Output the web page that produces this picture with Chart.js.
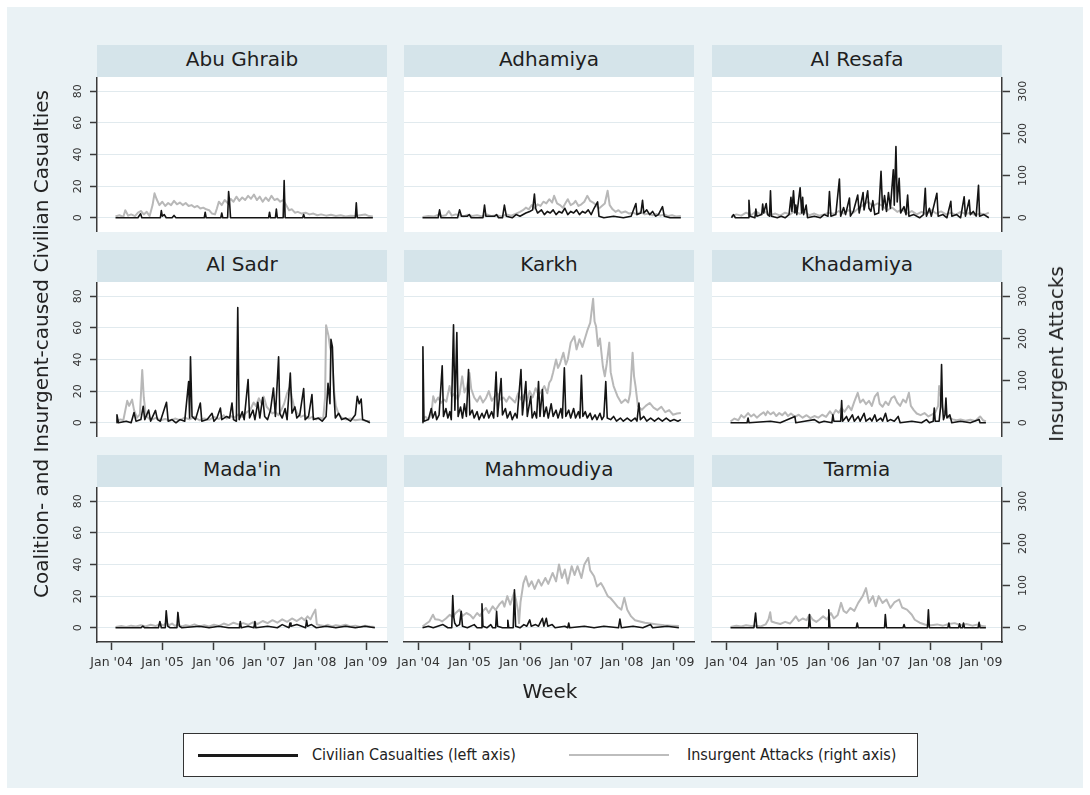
<!DOCTYPE html>
<html>
<head>
<meta charset="utf-8">
<title>Civilian casualties and insurgent attacks by district, Baghdad</title>
<script src="https://cdn.jsdelivr.net/npm/chart.js@4.4.1/dist/chart.umd.min.js"></script>
<style>
  html, body { margin: 0; padding: 0; background: #ffffff; }
  body { width: 1090px; height: 795px; overflow: hidden; position: relative;
         font-family: "DejaVu Sans", "Liberation Sans", sans-serif; color: #222; }
  #frame { position: absolute; left: 7px; top: 7px; width: 1076px; height: 781px; background: #eaf2f5; }
  .strip { position: absolute; width: 290px; height: 32px; background: #d5e4ea; text-align: center;
           font-size: 20px; line-height: 29px; color: #1e1e1e; white-space: nowrap; }
  canvas { position: absolute; }
  .ttl { position: absolute; white-space: nowrap; font-size: 20px; color: #222;
         transform: translate(-50%, -50%); }
  .ttl.rot { transform: translate(-50%, -50%) rotate(-90deg); }
  #legend { position: absolute; left: 183px; top: 733px; width: 735px; height: 44px; box-sizing: border-box;
            border: 1.5px solid #333; background: #fff; }
  #legend .swatch { position: absolute; width: 100px; }
  #legend .lbl { position: absolute; top: 0; line-height: 41px; font-size: 16px; white-space: nowrap;
                 font-family: "DejaVu Sans Condensed", "DejaVu Sans", sans-serif; color: #222; }
</style>
</head>
<body>
<div id="frame"></div>
<div id="stage"></div>
<div class="ttl rot" id="yTitleLeft" style="left:41px; top:344px;"></div>
<div class="ttl rot" id="yTitleRight" style="left:1056px; top:354px;"></div>
<div class="ttl" id="xTitle" style="left:550px; top:691px;"></div>
<div id="legend">
  <div class="swatch" style="left:14px; top:19.5px; height:3px; background:#1a1a1a;"></div>
  <div class="lbl" id="legendA" style="left:128px;"></div>
  <div class="swatch" style="left:385px; top:20px; height:2px; background:#bdbdbd;"></div>
  <div class="lbl" id="legendB" style="left:503px;"></div>
</div>

<script>
// ---------- labels ----------
const districts = ["Abu Ghraib", "Adhamiya", "Al Resafa", "Al Sadr", "Karkh", "Khadamiya",
                   "Mada'in", "Mahmoudiya", "Tarmia"];
const seriesNames = ["Civilian Casualties (left axis)", "Insurgent Attacks (right axis)"];
const leftAxisTitle = "Coalition- and Insurgent-caused Civilian Casualties";
const rightAxisTitle = "Insurgent Attacks";
const xAxisTitle = "Week";

// ---------- axis ticks ----------
const yearTickDates = ["2004-01-01", "2005-01-01", "2006-01-01", "2007-01-01", "2008-01-01", "2009-01-01"];
const yearTickLabels = ["Jan '04", "Jan '05", "Jan '06", "Jan '07", "Jan '08", "Jan '09"];
const leftTicks = [0, 20, 40, 60, 80];
const rightTicks = [0, 100, 200, 300];

// ---------- weekly series: [weeks since 1 Jan 2004, value] ----------
const abuGhraibCasualties = [[4,0],[27,0],[28.5,1.5],[29.7,2.5],[31,0],[50,0],[51,4.5],[52,1],[54,2],[56,0],[62,0],[64,1.5],[66,0],[95,0],[96,3.5],[97,0],[112,0],[113,3],[114,0],[119,0],[120,16.5],[121,10],[122,0],[161,0],[162,3.5],[163,0],[168,0],[169,5.5],[170,0],[176,0],[177,23.5],[178,0],[196,0],[197,2],[198,0],[250,0],[251,9.5],[252,0],[268,0]];
const abuGhraibAttacks = [[4,3],[8,6],[12,2],[14,18],[17,5],[20,8],[24,4],[27,12],[30,16],[33,8],[36,14],[39,4],[42,30],[44,58],[46,45],[49,30],[52,38],[55,28],[58,35],[61,30],[64,40],[67,32],[70,36],[73,30],[76,35],[79,28],[82,30],[85,25],[88,28],[91,22],[94,24],[97,20],[100,18],[103,10],[106,8],[108,22],[110,38],[113,30],[116,42],[119,35],[122,45],[125,38],[128,50],[131,40],[134,48],[137,42],[140,52],[143,45],[146,55],[149,42],[152,50],[155,38],[158,48],[161,40],[164,52],[167,42],[170,45],[173,38],[176,42],[179,30],[182,18],[185,20],[188,12],[191,14],[195,10],[199,12],[203,8],[207,10],[211,6],[215,8],[220,5],[225,7],[230,4],[235,6],[240,3],[245,5],[250,4],[255,6],[260,8],[264,4],[268,3]];

const adhamiyaCasualties = [[4,0],[20,0],[21.5,5],[23,0],[40,0],[42,5],[44,1],[50,1],[52,2],[54,0],[66,0],[67.6,8],[69,1],[78,1],[80,2],[82,0],[86,0],[88,8],[90,1],[96,0],[100,2],[104,1],[110,3],[114,4],[117,5],[118.8,15],[120,6],[122,3],[126,5],[129,2],[132,4],[135,3],[138,5],[141,2],[144,4],[147,3],[150,6],[153,2],[156,4],[159,3],[162,5],[165,2],[168,4],[171,3],[174,5],[177,2],[180,6],[183.6,10],[185,1],[190,0],[200,1],[210,0],[218,1],[222.9,9],[224,2],[228,3],[229.7,11],[231,3],[234,5],[237,2],[240,4],[243,1],[246,2],[250.2,7],[252,1],[258,0],[269,0]];
const adhamiyaAttacks = [[4,2],[10,4],[16,3],[21,8],[24,4],[28,6],[31,16],[34,5],[38,8],[42,6],[46,3],[50,7],[55,4],[60,6],[65,3],[70,8],[75,4],[80,6],[85,3],[90,8],[95,5],[100,10],[104,14],[107,18],[110,24],[113,20],[116,30],[119,22],[122,32],[125,28],[128,38],[131,34],[134,44],[137,36],[139,52],[142,34],[145,30],[148,24],[151,36],[153,44],[156,30],[159,34],[161,40],[164,28],[167,32],[170,38],[173,52],[176,40],[179,36],[182,30],[185,22],[188,28],[191,34],[193.9,64],[196,30],[199,20],[202,14],[205,18],[208,12],[212,15],[216,10],[220,12],[224,8],[228,14],[232,8],[236,10],[240,6],[244,9],[248,5],[252,8],[256,4],[260,6],[264,3],[269,4]];

const alResafaCasualties = [[5,0],[7,2],[9,0],[22,0],[22.9,11],[24,1],[29,0],[30,5.5],[31,1],[36,2],[37,8.7],[38,3],[40.6,9],[42,2],[44,1],[45,17],[46,1],[52,0],[56,1],[60,0],[64,2],[66,13],[67,4],[68.6,17],[70,3],[71,8],[72,2],[75.4,19],[77,3],[78,13],[79,2],[81.6,8],[83,0],[90,1],[96,0],[100,2],[104,1],[105.5,16.5],[107,1],[112,2],[115.7,24.5],[117,1],[120,6.5],[122,2],[126,12.5],[127,1],[130,4],[134.5,14.4],[136,3],[140,16],[141,5],[142,8],[144.7,17],[146,6],[148,4],[150,10.8],[152,2],[156,3],[158.4,29.4],[160,5],[162,14],[164,4],[166,16],[168,6],[171,30.3],[172,8],[173.7,45],[175,10],[177,25],[178.5,3],[182,7],[184,2],[185.7,14.4],[187,1],[192,2],[198,0],[202,2],[203.8,18.6],[205,1],[208,6],[210,1],[215.7,15.5],[217,1],[222,2],[226,0],[230,10.4],[231,1],[236,2],[240,0],[243.7,13.3],[245,1],[248.8,11.2],[250,2],[253,4],[256,1],[258.4,20.5],[259.5,1],[264,2],[269,0]];
const alResafaAttacks = [[5,4],[10,8],[15,5],[20,12],[25,6],[30,15],[35,8],[40,14],[45,6],[50,10],[55,5],[60,12],[65,8],[70,16],[75,9],[80,14],[85,6],[90,10],[95,5],[100,8],[105,12],[110,9],[115,16],[120,10],[125,18],[130,12],[135,22],[140,30],[145,38],[150,28],[155,34],[160,28],[165,18],[170,24],[175,14],[180,20],[185,10],[190,16],[195,8],[200,14],[205,9],[210,18],[215,10],[220,15],[225,8],[230,12],[235,7],[240,14],[245,9],[250,12],[255,6],[260,10],[265,8],[269,12]];

const alSadrCasualties = [[5,0],[5.5,5],[7,0],[15,1],[20,0],[23,6.5],[25,1],[30,2],[32.4,10.4],[34,2],[38,8],[40,1],[45,7.8],[47,2],[50,1],[56.3,13],[58,1],[62,2],[66,0],[70,2],[75,1],[79,26],[80,3],[80.9,41.7],[82.5,4],[86,2],[91,12.5],[92.5,1],[98,2],[103,6],[105,1],[108,3],[111.6,9.3],[113,2],[118,4],[121,3],[123.5,12.5],[125,2],[128,1],[129.4,72.8],[130.8,2],[134,7],[136,2],[140,27.3],[141.5,3],[145,8],[147,2],[150,13],[152,3],[155,16],[157,4],[160,2],[163,8],[166,22],[168,4],[171.3,41.7],[172.5,6],[175,3],[178,9],[180,2],[183.3,31.5],[185,6],[188,10],[190,3],[193,5],[197,21.6],[198.5,2],[202,4],[205.5,17.8],[207,2],[212,3],[216,1],[220,4],[222,25],[224,12],[225,52.7],[226.5,48],[228,18.8],[229.5,3],[233,6],[236,2],[240,3],[245,1],[250,5],[252,16.7],[254,12],[256,15],[257.5,2],[262,1],[265,0]];
const alSadrAttacks = [[5,4],[9,8],[12,6],[16,52],[18,40],[21,55],[23,30],[26,12],[29,20],[31.4,125],[33,60],[35,20],[38,10],[42,8],[46,12],[50,6],[55,9],[60,5],[65,10],[70,6],[75,12],[80,8],[85,14],[90,6],[95,10],[100,7],[105,14],[110,9],[115,18],[118,10],[122,16],[126,12],[130,20],[134,14],[138,24],[142,30],[145.7,48],[148,40],[151,58],[154,45],[156,62],[159,38],[162,30],[165,22],[168,26],[171,18],[174,30],[177,45],[180,70],[183,85],[185,60],[187,40],[190,24],[194,14],[198,18],[202,10],[206,14],[210,8],[214,12],[217,9],[219,60],[220,231],[222.5,206],[224,180],[226,158],[228,80],[230,40],[233,20],[236,12],[240,8],[245,10],[250,6],[255,8],[260,5],[265,4]];

const karkhCasualties = [[4,0],[4.4,48],[5.5,1],[10,2],[13,9],[14.5,3],[17,7],[18.5,2],[21,5],[24.2,36],[25.5,4],[28,9],[30,3],[32,7],[33.5,2],[35.8,62],[37.2,8],[39.2,57],[40.5,4],[43,10],[45,3],[47,12],[49,4],[51.2,33.6],[52.5,5],[55,8],[57,3],[60,7],[62,2],[65,6],[67,3],[70,8],[72,3],[75,7],[77,3],[79.5,32],[81,4],[84.6,28],[86,5],[89,9],[91,3],[94,7],[96,2],[99,6],[101,3],[105,33.6],[106.5,5],[110,26],[111.5,4],[115,16.7],[116.5,3],[119,7],[121,3],[123,26],[124.5,4],[127,21],[128.5,4],[131,10],[133,3],[136,12],[138,4],[141,8],[143,3],[146,9],[147.5,3],[149.5,34.7],[151,4],[154,8],[156,3],[159,9],[161,3],[164,7],[165.5,3],[167,30],[168.5,4],[171,7],[173,3],[176,6],[178,2],[181,5],[183,2],[186,6],[188,2],[190,4],[192,26],[193.5,3],[197,2],[200,4],[203,1],[207,3],[210,1],[214,3],[218,1],[222,3],[224,1],[226,12.5],[227.5,2],[231,4],[234,1],[238,3],[242,1],[246,3],[250,1],[254,3],[258,1],[262,2],[266,1],[269,2]];
const karkhAttacks = [[4,10],[7,14],[10,8],[13,20],[15,63],[17,48],[20,60],[23,47],[26,55],[28.5,50],[31.7,87],[34,62],[37,70],[40,55],[42,68],[44.7,110],[47,72],[49.5,85],[52.2,118],[54,80],[57,60],[60,50],[63,63],[66,48],[69,58],[72,75],[75,52],[78,62],[81,70],[84,55],[87,60],[90,50],[93,62],[96,55],[99,48],[102,70],[105,55],[108,66],[111,50],[114,75],[117,60],[120,82],[123,66],[126,75],[129,87],[132,70],[134,95],[136,102],[138,120],[141,150],[143,130],[145,140],[148.5,166],[151,138],[153,150],[156,190],[159.7,205],[162,174],[165,198],[168,180],[170,195],[173.4,221],[176,237],[179,294],[180.5,240],[182,229],[184,182],[186,200],[189,134],[191,110],[193,140],[195.6,190],[197,120],[200,87],[204,63],[208,47],[212,55],[215,48],[217,70],[219.5,166],[221,110],[222.5,87],[225,39],[229,31],[233,40],[237,47],[241,36],[245,30],[249,38],[253,25],[257,30],[261,19],[265,22],[269,23]];

const khadamiyaCasualties = [[4,0],[21,0],[22,3],[23,0],[45,1],[55,0],[70,4],[71,0],[80,1],[90,2],[95,0],[100,1],[108,0],[109,5],[110,1],[117,1],[118,14],[119,1],[123,4],[125,1],[129,5],[131,1],[135,4],[137,1],[141,6],[143,1],[147,3],[149,1],[152,5],[154,1],[158,3],[160,1],[163,6],[165,1],[168,2],[172,1],[176,4],[178,0],[190,1],[200,0],[205,2],[208,0],[212,1],[213,9.3],[214,1],[218,1],[219.5,10],[220.5,36.8],[221.5,10],[222.5,2],[224,5],[225,15.7],[226,3],[229,5],[231,0],[240,1],[250,0],[259,2],[260,0],[266,0]];
const khadamiyaAttacks = [[4,3],[8,10],[12,6],[15,18],[18,12],[22,23],[25,15],[28,20],[31,12],[35,20],[38,25],[40,18],[42,27],[45,20],[48,25],[51,16],[54,23],[57,18],[60,25],[63,16],[66,22],[70,14],[74,19],[78,12],[82,18],[86,11],[90,16],[94,12],[98,19],[102,14],[106,27],[109,18],[112,30],[115,24],[118,35],[121,26],[125,40],[128,30],[131,50],[134.5,71],[137,48],[140,55],[143,44],[146,52],[149,40],[152,62],[155,71],[157,45],[160,38],[163,50],[166,42],[169,58],[172,63],[175,48],[178,40],[181,55],[184,48],[187,71],[189,40],[192,30],[195,22],[199,18],[203,23],[207,15],[211,20],[214,25],[217,40],[218,87],[220,60],[222,30],[225,20],[228,12],[232,8],[236,6],[240,8],[245,5],[250,7],[255,4],[260,15],[263,6],[266,3]];

const madainCasualties = [[4,0],[30,0],[32,1],[34,0],[48,0],[49.5,4],[51,0],[55,0],[56,10.8],[57.5,1],[60,0],[67,0],[68,9.7],[69.5,1],[72,0],[90,1],[100,0],[110,1],[120,0],[131,0],[132,4],[133,0],[140,1],[146,0],[147,4],[148,0],[160,1],[170,0],[175,2],[182,0],[183,3],[184,1],[190,2],[195,1],[199,0],[200,4.7],[201,1],[205,2],[210,0],[220,1],[230,0],[240,1],[250,0],[260,1],[270,0]];
const madainAttacks = [[4,2],[10,4],[15,2],[20,5],[25,3],[30,6],[35,3],[40,7],[45,4],[50,9],[53,5],[56,12],[59,6],[62,10],[65,4],[68,8],[72,3],[76,6],[80,4],[85,8],[90,3],[95,6],[100,3],[105,7],[110,4],[115,10],[120,6],[125,12],[130,8],[135,11],[140,7],[145,13],[150,9],[155,16],[160,11],[165,18],[170,12],[175,20],[180,14],[185,22],[190,16],[195,24],[198,18],[201,27],[204,20],[206,30],[209,43],[210.5,8],[214,6],[218,4],[222,7],[226,3],[230,6],[235,4],[240,7],[245,3],[250,5],[255,2],[260,5],[265,3],[270,2]];

const mahmoudiyaCasualties = [[4,0],[10,1],[15,0],[25,2],[30,0],[34,0],[35,20.3],[36,7],[37,3],[39,1],[42,2],[43.7,10.4],[45,1],[50,0],[57,2],[60,0],[64,0],[65,15.2],[66,1],[70,0],[74,2],[76,0],[79,0],[80,10.4],[81,1],[86,0],[91,0],[91.5,4.7],[92.5,0],[97,0],[98.3,24],[99.5,1],[104,0],[108,2],[111,1],[114,5],[115.5,1],[120,2],[123,1],[127,6],[128.5,1],[131,6],[132.5,1],[137,2],[140,0],[150,1],[153,0],[154,3],[155,0],[170,1],[180,0],[190,1],[205,0],[206.5,5.5],[208,0],[220,1],[230,0],[238,2],[240,0],[255,1],[267,0]];
const mahmoudiyaAttacks = [[4,3],[8,10],[11,15],[14.7,31],[17,20],[21,19],[24,15],[28,22],[32,31],[35,25],[38,35],[42,43],[45,28],[49,35],[53,30],[56,22],[60,35],[63,28],[66,40],[69,47],[72,35],[76,51],[79,42],[83,56],[86,63],[88,50],[91,75],[94,55],[98,83],[100,65],[102,40],[103,11],[104.5,60],[107.5,106],[110,122],[113,98],[116,110],[119,92],[123,114],[126,100],[130,118],[133,104],[137.5,130],[141,110],[144,150],[147,118],[150,138],[153,105],[157,146],[160,125],[163,146],[167,118],[170,150],[174,166],[176,136],[180,122],[183,98],[187,106],[190,94],[194,75],[197,70],[201,59],[204,50],[208,43],[211,71],[214,43],[218,27],[222,18],[227,15],[232,12],[238,10],[245,8],[252,6],[260,5],[267,4]];

const tarmiaCasualties = [[4,0],[28,0],[29.7,9.3],[31,0],[84,0],[85,8.3],[86,0],[104,0],[104.8,11.4],[106,0],[133,0],[134,3],[135,0],[162,0],[162.8,8.3],[164,0],[181,0],[182,2],[183,0],[206,0],[207,11.4],[208,0],[227,0],[228,3],[229,0],[238,0],[239,2.5],[240,0],[242,0],[243,3],[244,0],[258,0],[259,3.4],[260,0],[266,0]];
const tarmiaAttacks = [[4,2],[10,5],[15,3],[20,6],[25,4],[30,5],[35,3],[40,8],[43,20],[44.7,37],[46,15],[50,12],[55,9],[60,14],[65,10],[68,18],[71,27],[74,16],[78,22],[82,18],[85,31],[88,20],[92,14],[95,19],[99,27],[103,20],[107,35],[110,22],[114,30],[117.4,59],[120,40],[123,35],[127,47],[131,40],[135,59],[139.6,75],[143,94],[146,59],[150,75],[153,51],[156,75],[160,59],[164,67],[168,47],[172,60],[177,67],[180,48],[185,43],[190,31],[193,19],[198,12],[204,7],[210,6],[216,8],[222,5],[228,9],[234,11],[240,6],[246,9],[252,5],[258,8],[262,4],[266,3]];

const casualtiesByDistrict = [abuGhraibCasualties, adhamiyaCasualties, alResafaCasualties, alSadrCasualties,
  karkhCasualties, khadamiyaCasualties, madainCasualties, mahmoudiyaCasualties, tarmiaCasualties];
const attacksByDistrict = [abuGhraibAttacks, adhamiyaAttacks, alResafaAttacks, alSadrAttacks,
  karkhAttacks, khadamiyaAttacks, madainAttacks, mahmoudiyaAttacks, tarmiaAttacks];

// ---------- layout ----------
const COL_X = [97, 404, 712];
const ROW_Y = [45, 250, 455];
const STRIP_H = 32, PLOT_W = 290, PLOT_H = 155;
const LEFT_AXIS_W = 42, RIGHT_AXIS_W = 34, BOTTOM_AXIS_H = 40;
const SIDE_ROOM = 26;   // room beside each panel so edge tick labels are not cut
const AXIS_COLOR = '#3a3a3a', GRID_COLOR = '#e1eaee', TICK_TEXT = '#333';
const TICK_FONT = '11px "DejaVu Sans", "Liberation Sans", sans-serif';

const WEEK_MS = 7 * 24 * 3600 * 1000;
const origin = Date.UTC(2004, 0, 1);
const weekOf = s => (Date.parse(s + 'T00:00:00Z') - origin) / WEEK_MS;
const yearTickWeeks = yearTickDates.map(weekOf);

document.getElementById('yTitleLeft').textContent = leftAxisTitle;
document.getElementById('yTitleRight').textContent = rightAxisTitle;
document.getElementById('xTitle').textContent = xAxisTitle;
document.getElementById('legendA').textContent = seriesNames[0];
document.getElementById('legendB').textContent = seriesNames[1];

Chart.defaults.font.family = '"DejaVu Sans", "Liberation Sans", sans-serif';

// white plot region behind the lines
const plotBackground = {
  id: 'plotBackground',
  beforeDraw(chart) {
    const { ctx, chartArea: a } = chart;
    ctx.save();
    ctx.fillStyle = '#ffffff';
    ctx.fillRect(a.left, a.top, a.right - a.left, a.bottom - a.top);
    ctx.restore();
  }
};

// vertical-axis tick labels, turned to read upwards
const uprightTickLabels = {
  id: 'uprightTickLabels',
  afterDraw(chart, args, opts) {
    const { ctx, chartArea: a } = chart;
    (opts.axes || []).forEach(id => {
      const s = chart.scales[id];
      const onLeft = s.options.position === 'left';
      const x = onLeft ? a.left - 19 : a.right + 21;
      ctx.save();
      ctx.font = TICK_FONT;
      ctx.fillStyle = TICK_TEXT;
      ctx.textAlign = 'center';
      ctx.textBaseline = 'middle';
      s.ticks.forEach(t => {
        const y = s.getPixelForValue(t.value);
        ctx.save();
        ctx.translate(x, y);
        ctx.rotate(-Math.PI / 2);
        ctx.fillText(t.label != null ? String(t.label) : String(t.value), 0, 0);
        ctx.restore();
      });
      ctx.restore();
    });
  }
};

const stage = document.getElementById('stage');

districts.forEach((name, i) => {
  const row = Math.floor(i / 3), col = i % 3;

  const strip = document.createElement('div');
  strip.className = 'strip';
  strip.style.left = COL_X[col] + 'px';
  strip.style.top = ROW_Y[row] + 'px';
  strip.textContent = name;
  stage.appendChild(strip);

  const leftW = col === 0 ? LEFT_AXIS_W : 0;
  const rightW = col === 2 ? RIGHT_AXIS_W : 0;
  const bottomH = row === 2 ? BOTTOM_AXIS_H : 0;

  const canvas = document.createElement('canvas');
  canvas.width = PLOT_W + leftW + rightW + 2 * SIDE_ROOM;
  canvas.height = PLOT_H + bottomH;
  canvas.style.left = (COL_X[col] - leftW - SIDE_ROOM) + 'px';
  canvas.style.top = (ROW_Y[row] + STRIP_H) + 'px';
  canvas.style.width = canvas.width + 'px';
  canvas.style.height = canvas.height + 'px';
  stage.appendChild(canvas);

  const noPad = s => { s.paddingLeft = 0; s.paddingRight = 0; s.paddingTop = 0; s.paddingBottom = 0; };

  new Chart(canvas, {
    type: 'line',
    data: {
      datasets: [
        {
          label: seriesNames[0],
          data: casualtiesByDistrict[i].map(([x, y]) => ({ x, y })),
          yAxisID: 'y',
          borderColor: '#141414',
          borderWidth: 1.6,
          borderJoinStyle: 'round',
          pointRadius: 0,
          order: 0
        },
        {
          label: seriesNames[1],
          data: attacksByDistrict[i].map(([x, y]) => ({ x, y })),
          yAxisID: 'y2',
          borderColor: '#b8b8b8',
          borderWidth: 2,
          borderJoinStyle: 'round',
          pointRadius: 0,
          order: 1
        }
      ]
    },
    options: {
      responsive: false,
      maintainAspectRatio: false,
      animation: false,
      events: [],
      layout: { padding: { left: SIDE_ROOM, right: SIDE_ROOM, top: 0, bottom: 0 }, autoPadding: false },
      plugins: {
        legend: { display: false },
        tooltip: { enabled: false },
        title: { display: false },
        uprightTickLabels: { axes: col === 0 ? ['y'] : (col === 2 ? ['y2'] : []) }
      },
      elements: { line: { tension: 0 }, point: { radius: 0 } },
      scales: {
        x: {
          type: 'linear',
          min: -15,
          max: 282.5,
          display: row === 2,
          afterFit: s => { s.height = bottomH; noPad(s); },
          afterBuildTicks: s => { s.ticks = yearTickWeeks.map(v => ({ value: v })); },
          ticks: {
            autoSkip: false, minRotation: 0, maxRotation: 0, padding: 5,
            color: TICK_TEXT, font: { size: 12.5 },
            callback: (v, idx) => yearTickLabels[idx]
          },
          grid: { drawOnChartArea: false, tickLength: 8, tickColor: AXIS_COLOR, tickWidth: 1.5 },
          border: { color: AXIS_COLOR, width: 1.5 }
        },
        y: {
          type: 'linear',
          position: 'left',
          min: -9,
          max: 89,
          display: true,
          afterFit: s => { s.width = leftW; noPad(s); },
          afterBuildTicks: s => { s.ticks = leftTicks.map(v => ({ value: v })); },
          ticks: { display: false, autoSkip: false },
          grid: {
            color: GRID_COLOR, lineWidth: 1, drawTicks: col === 0,
            tickLength: 7, tickColor: AXIS_COLOR, tickWidth: 1.5
          },
          border: { display: col === 0, color: AXIS_COLOR, width: 1.5 }
        },
        y2: {
          type: 'linear',
          position: 'right',
          min: -33.75,
          max: 333.75,
          display: col === 2,
          afterFit: s => { s.width = rightW; noPad(s); },
          afterBuildTicks: s => { s.ticks = rightTicks.map(v => ({ value: v })); },
          ticks: { display: false, autoSkip: false },
          grid: { drawOnChartArea: false, tickLength: 8, tickColor: AXIS_COLOR, tickWidth: 1.5 },
          border: { color: AXIS_COLOR, width: 1.5 }
        }
      }
    },
    plugins: [plotBackground, uprightTickLabels]
  });
});
</script>
</body>
</html>
